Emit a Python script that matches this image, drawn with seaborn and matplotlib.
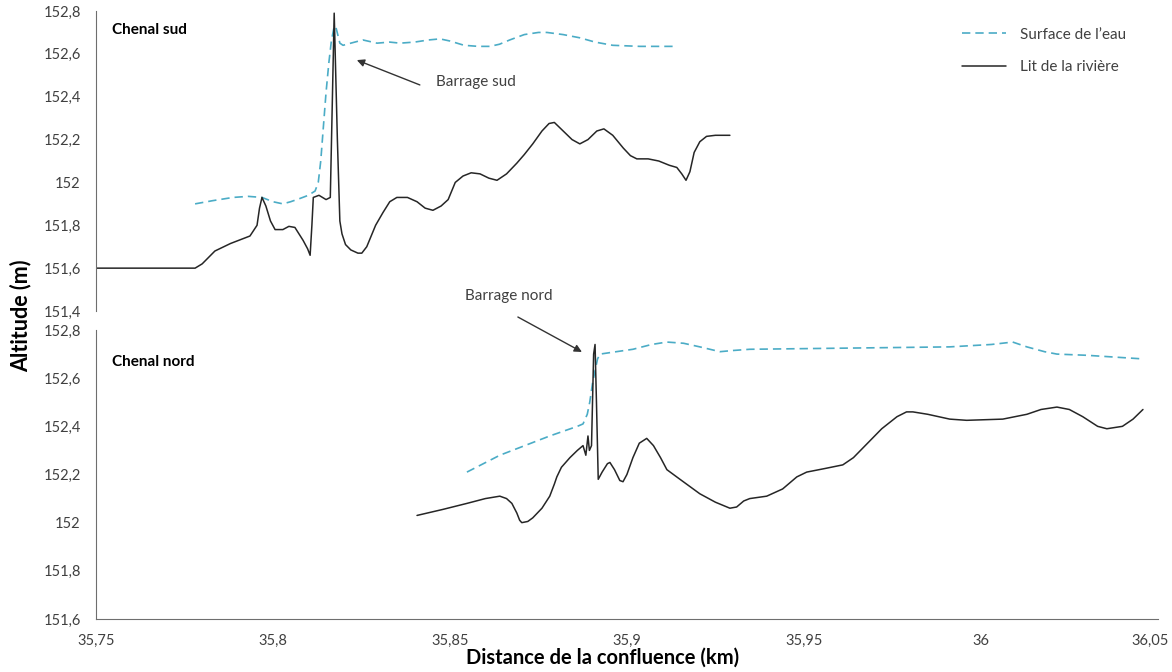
"""
Profil en long du lit et de la surface de l'eau : chenal sud et chenal nord
"""

import pandas as pd
import matplotlib
matplotlib.use("Agg")
import matplotlib.pyplot as plt
import matplotlib.transforms as mtransforms
import seaborn as sns
from matplotlib.ticker import FuncFormatter, MultipleLocator

# Chenal sud - lit de la riviere (km, m)
sud_lit_x = [35.7500, 35.7780, 35.7800, 35.7836, 35.7880, 35.7935, 35.7955, 35.7962,
             35.7969, 35.7980, 35.7993, 35.8006, 35.8028, 35.8045, 35.8062, 35.8085,
             35.8098, 35.8105, 35.8110, 35.8114, 35.8130, 35.8150, 35.8162, 35.8173,
             35.8182, 35.8189, 35.8195, 35.8205, 35.8220, 35.8240, 35.8251, 35.8265,
             35.8290, 35.8311, 35.8330, 35.8350, 35.8380, 35.8407, 35.8430, 35.8452,
             35.8475, 35.8495, 35.8505, 35.8515, 35.8537, 35.8560, 35.8585, 35.8610,
             35.8633, 35.8660, 35.8689, 35.8710, 35.8734, 35.8760, 35.8780, 35.8795,
             35.8820, 35.8845, 35.8867, 35.8890, 35.8915, 35.8935, 35.8960, 35.8990,
             35.9010, 35.9028, 35.9060, 35.9090, 35.9120, 35.9141, 35.9155, 35.9167,
             35.9178, 35.9190, 35.9206, 35.9225, 35.9250, 35.9291]
sud_lit_y = [151.60, 151.60, 151.62, 151.68, 151.715, 151.75, 151.80, 151.88,
             151.93, 151.89, 151.82, 151.78, 151.78, 151.795, 151.79, 151.73,
             151.69, 151.66, 151.80, 151.93, 151.94, 151.92, 151.93, 152.79,
             152.20, 151.82, 151.76, 151.71, 151.685, 151.67, 151.67, 151.70,
             151.80, 151.86, 151.91, 151.93, 151.93, 151.91, 151.88, 151.87,
             151.89, 151.92, 151.96, 152.00, 152.03, 152.045, 152.04, 152.02,
             152.01, 152.04, 152.09, 152.13, 152.18, 152.24, 152.275, 152.28,
             152.24, 152.20, 152.18, 152.20, 152.24, 152.25, 152.22, 152.16,
             152.125, 152.11, 152.11, 152.10, 152.08, 152.07, 152.04, 152.01,
             152.05, 152.14, 152.19, 152.215, 152.22, 152.22]

# Chenal sud - surface de l'eau
sud_eau_x = [35.7780, 35.7830, 35.7887, 35.7930, 35.7969, 35.8000, 35.8028, 35.8050,
             35.8076, 35.8100, 35.8119, 35.8128, 35.8135, 35.8142, 35.8150, 35.8158,
             35.8165, 35.8172, 35.8177, 35.8183, 35.8189, 35.8198, 35.8220, 35.8254,
             35.8294, 35.8330, 35.8359, 35.8400, 35.8440, 35.8472, 35.8500, 35.8540,
             35.8580, 35.8613, 35.8640, 35.8669, 35.8710, 35.8750, 35.8774, 35.8820,
             35.8867, 35.8910, 35.8960, 35.9037, 35.9141]
sud_eau_y = [151.90, 151.915, 151.93, 151.935, 151.93, 151.91, 151.90, 151.91,
             151.925, 151.94, 151.96, 152.00, 152.10, 152.25, 152.42, 152.56,
             152.66, 152.72, 152.73, 152.69, 152.65, 152.64, 152.65, 152.665,
             152.65, 152.655, 152.65, 152.655, 152.665, 152.67, 152.66, 152.64,
             152.635, 152.635, 152.645, 152.665, 152.69, 152.70, 152.70, 152.69,
             152.675, 152.655, 152.64, 152.635, 152.635]

# Chenal nord - lit de la riviere
nord_lit_x = [35.8407, 35.8480, 35.8548, 35.8600, 35.8641, 35.8660, 35.8675, 35.8689,
              35.8697, 35.8703, 35.8720, 35.8734, 35.8760, 35.8782, 35.8795, 35.8802,
              35.8815, 35.8839, 35.8860, 35.8876, 35.8880, 35.8884, 35.8887, 35.8890,
              35.8894, 35.8900, 35.8906, 35.8910, 35.8914, 35.8919, 35.8930, 35.8945,
              35.8952, 35.8965, 35.8980, 35.8989, 35.9000, 35.9017, 35.9035, 35.9056,
              35.9075, 35.9095, 35.9113, 35.9150, 35.9206, 35.9250, 35.9291, 35.9310,
              35.9330, 35.9347, 35.9395, 35.9440, 35.9480, 35.9508, 35.9560, 35.9610,
              35.9640, 35.9680, 35.9720, 35.9763, 35.9790, 35.9808, 35.9850, 35.9912,
              35.9960, 36.0062, 36.0130, 36.0170, 36.0215, 36.0250, 36.0288, 36.0330,
              36.0356, 36.0400, 36.0430, 36.0458]
nord_lit_y = [152.03, 152.055, 152.08, 152.10, 152.11, 152.10, 152.08, 152.04,
              152.01, 152.00, 152.005, 152.02, 152.06, 152.11, 152.16, 152.19,
              152.23, 152.27, 152.30, 152.32, 152.30, 152.28, 152.32, 152.36,
              152.30, 152.32, 152.70, 152.74, 152.50, 152.18, 152.21, 152.245,
              152.25, 152.22, 152.175, 152.17, 152.20, 152.27, 152.33, 152.35,
              152.32, 152.27, 152.22, 152.18, 152.12, 152.085, 152.06, 152.065,
              152.09, 152.10, 152.11, 152.14, 152.19, 152.21, 152.225, 152.24,
              152.27, 152.33, 152.39, 152.44, 152.46, 152.46, 152.45, 152.43,
              152.425, 152.43, 152.45, 152.47, 152.48, 152.47, 152.44, 152.40,
              152.39, 152.40, 152.43, 152.47]

# Chenal nord - surface de l'eau
nord_eau_x = [35.8548, 35.8641, 35.8782, 35.8860, 35.8876, 35.8888, 35.8895, 35.8903,
              35.8910, 35.8917, 35.8924, 35.8970, 35.9017, 35.9070, 35.9113, 35.9160,
              35.9206, 35.9263, 35.9300, 35.9347, 35.9630, 35.9912, 36.0030, 36.0090,
              36.0130, 36.0180, 36.0215, 36.0300, 36.0458]
nord_eau_y = [152.21, 152.28, 152.36, 152.40, 152.41, 152.45, 152.50, 152.58,
              152.63, 152.68, 152.70, 152.71, 152.72, 152.74, 152.75, 152.745,
              152.73, 152.71, 152.715, 152.72, 152.725, 152.73, 152.74, 152.75,
              152.73, 152.71, 152.70, 152.695, 152.68]

# Graduations de l'axe des distances
x_ticks = [35.75, 35.80, 35.85, 35.90, 35.95, 36.00, 36.05]

water_color = "#4BACC6"
bed_color = "#262626"
axis_color = "#6e6e6e"
text_color = "#404040"

sns.set_style("white")
plt.rcParams["font.family"] = ["Lato", "DejaVu Sans"]


def comma_fmt(v, pos=None):
    return ("%g" % round(v, 3)).replace(".", ",")


def style_axis(ax, ymin, ymax, show_x):
    ax.set_xlim(35.75, 36.05)
    ax.set_ylim(ymin, ymax)
    ax.yaxis.set_major_locator(MultipleLocator(0.2))
    ax.yaxis.set_major_formatter(FuncFormatter(comma_fmt))
    ax.set_xticks(x_ticks, labels=[comma_fmt(t) for t in x_ticks])
    for side in ["top", "right"]:
        ax.spines[side].set_visible(False)
    ax.spines["left"].set_color(axis_color)
    ax.spines["bottom"].set_color(axis_color)
    ax.tick_params(axis="y", direction="out", length=5, width=0.8, color=axis_color,
                   labelsize=10.5, labelcolor=text_color, pad=6)
    ax.tick_params(axis="x", direction="out", length=5, width=0.8, color=axis_color,
                   labelsize=10.5, labelcolor=text_color, pad=6)
    if not show_x:
        ax.spines["bottom"].set_visible(False)
        ax.tick_params(axis="x", bottom=False, labelbottom=False)
    ax.set_xlabel("")
    ax.set_ylabel("")


fig = plt.figure(figsize=(11.72, 6.72), dpi=100)
ax_sud = fig.add_axes([0.0819, 0.5372, 0.906, 0.4464])
ax_nord = fig.add_axes([0.0819, 0.0789, 0.906, 0.4300])

df_sud_lit = pd.DataFrame({"x": sud_lit_x, "y": sud_lit_y})
df_sud_eau = pd.DataFrame({"x": sud_eau_x, "y": sud_eau_y})
df_nord_lit = pd.DataFrame({"x": nord_lit_x, "y": nord_lit_y})
df_nord_eau = pd.DataFrame({"x": nord_eau_x, "y": nord_eau_y})

sns.lineplot(data=df_sud_eau, x="x", y="y", ax=ax_sud, color=water_color, lw=1.2,
             label="Surface de l\u2019eau")
ax_sud.lines[-1].set_dashes([5, 3])
sns.lineplot(data=df_sud_lit, x="x", y="y", ax=ax_sud, color=bed_color, lw=1.1,
             label="Lit de la rivi\u00e8re")

sns.lineplot(data=df_nord_eau, x="x", y="y", ax=ax_nord, color=water_color, lw=1.2)
ax_nord.lines[-1].set_dashes([5, 3])
sns.lineplot(data=df_nord_lit, x="x", y="y", ax=ax_nord, color=bed_color, lw=1.1)

style_axis(ax_sud, 151.4, 152.8, show_x=False)
style_axis(ax_nord, 151.6, 152.8, show_x=True)

# keep the last x tick label ("36,05") inside the figure
shift = mtransforms.ScaledTranslation(-8 / 100, 0, fig.dpi_scale_trans)
for lbl in ax_nord.get_xticklabels():
    if lbl.get_text() == "36,05":
        lbl.set_transform(lbl.get_transform() + shift)

# Legend
ax_sud.legend(loc="upper right", bbox_to_anchor=(0.983, 0.99), frameon=False,
              fontsize=11, handlelength=2.9, handletextpad=0.9, labelspacing=1.2,
              labelcolor=text_color)

# Panel titles
ax_sud.text(0.015, 0.937, "Chenal sud", transform=ax_sud.transAxes, fontsize=11,
            fontweight="bold", color="black", va="center")
ax_nord.text(0.015, 0.89, "Chenal nord", transform=ax_nord.transAxes, fontsize=11,
             fontweight="bold", color="black", va="center")

# Barrage annotations (text + arrow)
ax_sud.text(35.8460, 152.47, "Barrage sud", fontsize=11, color=text_color,
            va="center", ha="left")
ax_sud.annotate("", xy=(35.8237, 152.571), xytext=(35.8415, 152.455),
                arrowprops=dict(arrowstyle="-|>", color="#333333", lw=1.0,
                                shrinkA=0, shrinkB=0, mutation_scale=11))
ax_nord.text(35.8542, 152.94, "Barrage nord", fontsize=11, color=text_color,
             va="center", ha="left", clip_on=False)
ax_nord.annotate("", xy=(35.8873, 152.709), xytext=(35.8692, 152.854),
                 annotation_clip=False,
                 arrowprops=dict(arrowstyle="-|>", color="#333333", lw=1.0,
                                 shrinkA=0, shrinkB=0, mutation_scale=11))

# Shared axis labels
fig.text(0.018, 0.53, "Altitude (m)", rotation=90, fontsize=15.5, fontweight="bold",
         va="center", ha="center", color="black")
fig.text(0.5145, 0.022, "Distance de la confluence (km)", fontsize=14.5,
         fontweight="bold", va="center", ha="center", color="black")

fig.savefig("out.png", dpi=100)
plt.close(fig)
